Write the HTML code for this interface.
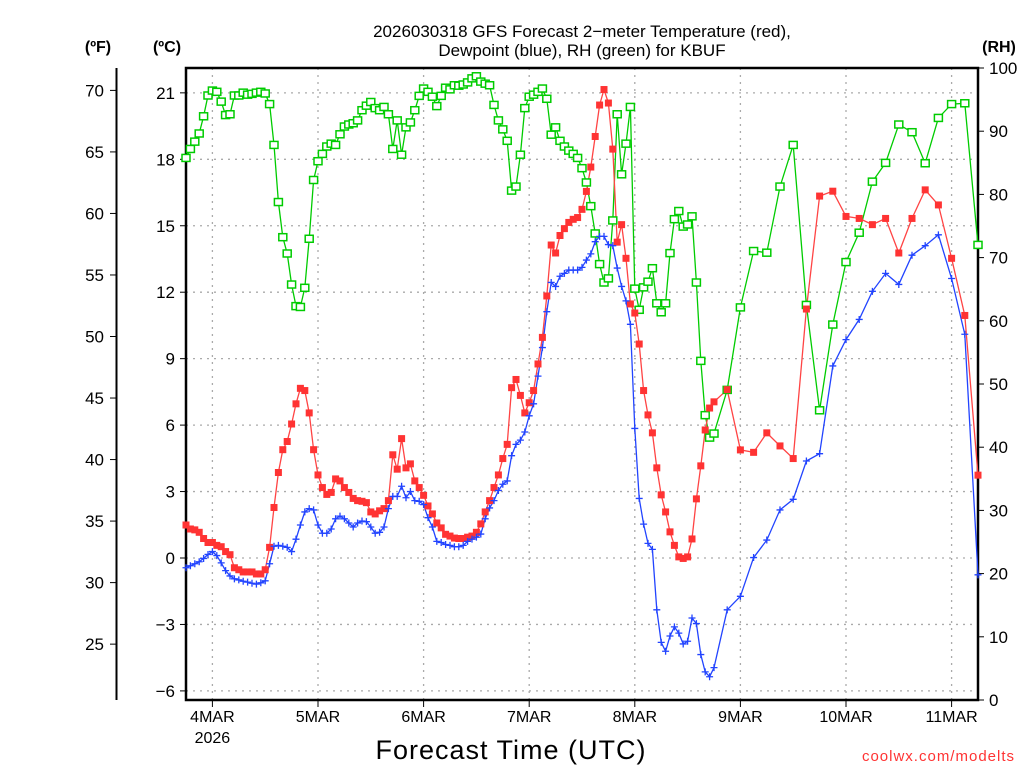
<!DOCTYPE html>
<html><head><meta charset="utf-8"><style>
body{margin:0;background:#fff;width:1024px;height:768px;overflow:hidden}
svg{display:block;font-family:"Liberation Sans",sans-serif}
</style></head><body>
<svg id="chart" width="1024" height="768" viewBox="0 0 1024 768" xmlns="http://www.w3.org/2000/svg">
<text x="582" y="37" font-size="17" text-anchor="middle" fill="#000">2026030318 GFS Forecast 2−meter Temperature (red),</text>
<text x="582" y="56" font-size="17" text-anchor="middle" fill="#000">Dewpoint (blue), RH (green) for KBUF</text>
<text x="98" y="52" font-size="16" font-weight="bold" text-anchor="middle">(ºF)</text>
<text x="167" y="52" font-size="16" font-weight="bold" text-anchor="middle">(ºC)</text>
<text x="999" y="52" font-size="16" font-weight="bold" text-anchor="middle">(RH)</text>
<text x="511" y="759" font-size="27" text-anchor="middle" letter-spacing="1">Forecast Time (UTC)</text>
<text x="1015" y="761" font-size="15" text-anchor="end" fill="#ff3333" letter-spacing="1">coolwx.com/modelts</text>
<g id="grid"></g><g id="axes"></g><g id="series"></g>
</svg>
<script>
const tHours=[];for(let h=0;h<=120;h++)tHours.push(h);for(let h=123;h<=180;h+=3)tHours.push(h);
const temps=[1.49,1.31,1.27,1.16,0.88,0.70,0.70,0.57,0.51,0.29,0.15,-0.44,-0.53,-0.63,-0.63,-0.63,-0.72,-0.72,-0.53,0.48,2.28,3.86,4.89,5.26,6.05,6.96,7.66,7.56,6.55,4.89,3.75,3.18,2.87,2.96,3.57,3.48,3.18,2.96,2.69,2.59,2.56,2.50,2.08,1.99,2.13,2.23,2.59,
4.66,4.01,5.39,4.07,4.25,3.48,3.18,2.83,2.35,1.99,1.58,1.36,1.07,0.99,0.90,0.88,0.88,0.94,0.99,1.16,1.54,
2.08,2.59,3.18,3.75,4.49,5.13,7.69,8.06,7.34,6.55,7.01,7.56,8.76,9.96,11.83,14.13,13.77,14.56,14.87,15.15,15.29,15.37,15.74,16.55,17.65,
19.03,20.45,21.15,20.54,18.46,14.26,15.05,13.53,11.47,11.06,9.66,7.56,6.46,5.65,4.07,2.85,2.08,1.18,0.57,0.05,-0.02,0.05,0.86,2.67,4.16,5.78,6.77,7.05,
7.60,4.88,4.77,5.65,5.06,4.49,11.24,16.34,16.56,15.42,15.33,15.05,15.33,13.77,15.33,16.62,15.94,13.53,10.95,3.74];
const dewpts=[-0.44,-0.35,-0.26,-0.17,-0.02,0.16,0.29,0.11,-0.22,-0.57,-0.81,-0.94,-0.99,-1.05,-1.09,-1.14,-1.18,-1.12,-1.03,-0.26,0.53,0.57,0.53,0.48,0.29,0.85,1.49,2.08,2.23,2.17,1.49,1.12,1.12,1.31,1.77,1.89,1.77,1.58,1.40,1.58,1.67,1.64,1.40,1.12,1.16,1.40,2.23,
2.78,2.78,3.24,2.72,3.00,2.59,2.56,2.41,1.82,1.40,0.75,0.70,0.61,0.57,0.51,0.51,0.57,0.75,0.85,0.94,1.08,
1.77,2.26,2.59,3.05,3.33,3.48,4.62,5.13,5.32,5.69,6.42,6.96,8.21,9.50,11.12,12.44,12.26,12.72,12.85,13.00,13.00,13.00,13.12,13.45,13.73,
14.28,14.52,14.52,14.15,14.10,13.09,12.26,11.61,10.55,5.85,2.69,1.53,0.66,0.39,-2.34,-3.81,-4.21,-3.52,-3.11,-3.39,-3.88,-3.76,-2.71,-2.96,-4.36,-5.14,-5.36,-4.95,
-2.34,-1.73,0.02,0.81,2.17,2.65,4.38,4.71,8.67,9.86,10.77,12.04,12.85,12.35,13.67,14.10,14.59,12.62,10.10,-0.76];
const rhs=[85.77,87.19,88.35,89.64,92.36,95.65,96.43,96.23,94.68,92.55,92.68,95.65,95.65,96.10,95.78,95.91,96.10,96.23,95.97,94.29,87.83,78.79,73.23,70.65,65.74,62.32,62.19,65.22,72.98,82.28,85.25,86.41,87.58,88.03,87.83,89.51,90.74,91.06,91.26,91.71,93.32,94.04,94.62,93.65,93.32,93.84,92.68,
87.19,91.71,86.28,90.61,91.39,93.32,95.59,96.75,96.23,95.46,93.97,95.59,96.88,96.62,97.27,97.20,97.39,97.72,98.36,98.69,97.85,
97.52,97.27,94.16,91.71,90.29,88.48,80.60,81.24,86.28,93.65,95.46,95.78,96.23,96.75,95.13,89.45,90.61,88.48,87.58,86.93,86.41,85.77,84.15,81.89,78.14,
73.82,68.97,66.06,66.71,75.88,92.68,83.18,88.03,93.84,65.09,61.74,65.29,66.19,68.32,62.77,61.35,62.77,70.71,76.08,77.37,74.91,75.24,76.53,66.06,53.66,45.07,41.52,42.16,
49.07,62.12,71.04,70.78,81.24,87.83,62.51,45.84,59.41,69.29,73.94,82.02,84.99,91.06,89.84,84.93,92.10,94.29,94.42,72.01];
const dayLabels=["4MAR","5MAR","6MAR","7MAR","8MAR","9MAR","10MAR","11MAR"];
const cTicks=[-6,-3,0,3,6,9,12,15,18,21];
const fTicks=[25,30,35,40,45,50,55,60,65,70];
const rhTicks=[0,10,20,30,40,50,60,70,80,90,100];

const L=186,R=978,T=68,B=700;
const xH=h=>L+h*4.4;
const yC=c=>558-c*22.15;
const yF=f=>yC((f-32)*5/9);
const yR=r=>B-r*6.32;
const NS="http://www.w3.org/2000/svg";
function mk(tag,attrs,parent,txt){const e=document.createElementNS(NS,tag);for(const k in attrs)e.setAttribute(k,attrs[k]);if(txt!==undefined)e.textContent=txt;parent.appendChild(e);return e;}
const grid=document.getElementById('grid'),axes=document.getElementById('axes'),ser=document.getElementById('series');

cTicks.forEach(c=>{const y=yC(c);
 const g=mk('line',{x1:L,x2:R,y1:y,y2:y,stroke:'#aaa','stroke-width':1.3,'stroke-dasharray':'2,5'},grid);
 
 
 const tk=mk('line',{x1:L-6,x2:L,y1:y,y2:y,stroke:'#000','stroke-width':1},axes);
 
 
 const t=mk('text',{x:L-11,y:y+6,'font-size':17,'text-anchor':'end'},axes,c<0?'−'+Math.abs(c):String(c));
 
 
});
dayLabels.forEach((d,i)=>{const x=xH(6+24*i);
 const g=mk('line',{x1:x,x2:x,y1:T,y2:B,stroke:'#aaa','stroke-width':1.3,'stroke-dasharray':'2,5'},grid);
 
 
 const tk=mk('line',{x1:x,x2:x,y1:B,y2:B+7,stroke:'#000','stroke-width':1},axes);
 
 
 const t=mk('text',{x:x,y:B+22,'font-size':16,'text-anchor':'middle'},axes,d);
 
 
});
const yr=mk('text',{x:xH(6),y:B+43,'font-size':16,'text-anchor':'middle'},axes,'2026');


fTicks.forEach(f=>{const y=yF(f);
 const tk=mk('line',{x1:110,x2:116,y1:y,y2:y,stroke:'#000','stroke-width':1},axes);
 
 
 const t=mk('text',{x:104,y:y+6,'font-size':17,'text-anchor':'end'},axes,String(f));
 
 
});
rhTicks.forEach(r=>{const y=yR(r);
 const tk=mk('line',{x1:R,x2:R+6,y1:y,y2:y,stroke:'#000','stroke-width':1},axes);
 
 
 const t=mk('text',{x:989,y:y+6,'font-size':17,'text-anchor':'start'},axes,String(r));
 
 
});
const fl=mk('line',{x1:116.5,x2:116.5,y1:T,y2:B,stroke:'#000','stroke-width':2},axes);


const box=mk('rect',{x:L,y:T,width:R-L,height:B-T,fill:'none',stroke:'#000','stroke-width':2.5},axes);



function line(vals,yf,color,name){
 const pts=vals.map((v,i)=>xH(tHours[i]).toFixed(1)+','+yf(v).toFixed(1)).join(' ');
 const p=mk('polyline',{points:pts,fill:'none',stroke:color,'stroke-width':1.3},ser);
 
 
}
line(rhs,yR,'#00cc00','rh-line');
line(temps,yC,'#ff4444','temperature-line');
line(dewpts,yC,'#2244ff','dewpoint-line');
rhs.forEach((v,i)=>{const x=xH(tHours[i]),y=yR(v);
 const m=mk('rect',{x:x-4,y:y-3.5,width:8,height:7,fill:'#fff',stroke:'#00cc00','stroke-width':1.5},ser);
 
 
});
temps.forEach((v,i)=>{const x=xH(tHours[i]),y=yC(v);
 const m=mk('rect',{x:x-3.5,y:y-3.5,width:7,height:7,fill:'#f33'},ser);
 
 
});
dewpts.forEach((v,i)=>{const x=xH(tHours[i]),y=yC(v);
 const m=mk('path',{d:`M${x-3.5},${y}H${x+3.5}M${x},${y-3.5}V${y+3.5}`,stroke:'#2244ff','stroke-width':1.3},ser);
 
 
});
</script>
</body></html>
